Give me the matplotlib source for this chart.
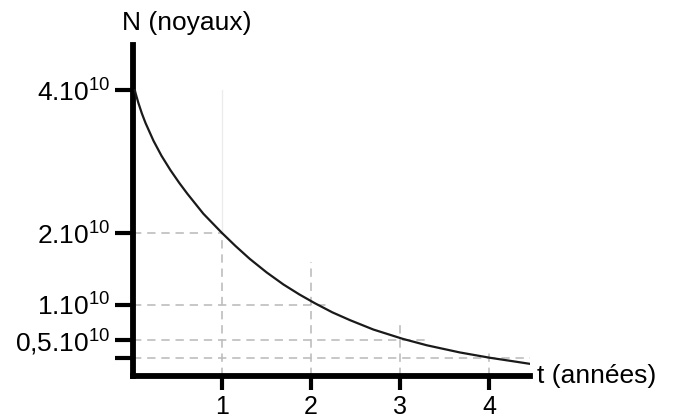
import matplotlib
matplotlib.use("Agg")
import matplotlib.pyplot as plt

plt.rcParams['font.family'] = ['Liberation Sans', 'DejaVu Sans']
plt.rcParams['mathtext.fontset'] = 'custom'
plt.rcParams['mathtext.rm'] = 'Liberation Sans'
plt.rcParams['mathtext.it'] = 'Liberation Sans'

# Decay curve (t in years, N in units of 1e10)
t_vals = [0.02, 0.03, 0.06, 0.10, 0.14, 0.23, 0.32, 0.42, 0.52, 0.61, 0.79, 1.0, 1.15, 1.31,
          1.5, 1.69, 1.87, 2.04, 2.24, 2.44, 2.7, 3.03, 3.3, 3.67, 4.01, 4.25, 4.46]
n_vals = [4.0, 3.95, 3.82, 3.67, 3.54, 3.29, 3.08, 2.88, 2.70, 2.55, 2.27, 2.0, 1.82, 1.64,
          1.45, 1.28, 1.14, 1.02, 0.89, 0.78, 0.65, 0.52, 0.43, 0.33, 0.255, 0.21, 0.17]

x_ticks = [1, 2, 3, 4]
x_tick_labels = ['1', '2', '3', '4']
y_ticks = [4, 2, 1, 0.5, 0.25]
y_tick_labels = [r'$\mathregular{4.10^{10}}$', r'$\mathregular{2.10^{10}}$',
                 r'$\mathregular{1.10^{10}}$', r'$\mathregular{0{,}5.10^{10}}$', '']

# guide lines: (N level, x extent end) and (t, y start)
h_guides = [(2, 1.0), (1, 2.2), (0.5, 3.3), (0.25, 4.46)]
v_guides = [(1, 2.0), (2, 1.6), (3, 0.75), (4, 0.35)]

fig = plt.figure(figsize=(6.77, 4.19), dpi=100)
ax = fig.add_axes([0.1965, 0.1026, 0.5864, 0.79])
ax.set_xlim(0, 4.46)
ax.set_ylim(0, 4.63)

grey = '#bdbdbd'
for lvl, xe in h_guides:
    ax.plot([0, xe], [lvl, lvl], color=grey, lw=1.2, ls=(0, (5, 3.5)), zorder=1)
for tv, ys in v_guides:
    ax.plot([tv, tv], [0, ys], color=grey, lw=1.2, ls=(0, (5, 3.5)), zorder=1)
# faint upper part of the t=1 guide
ax.plot([1, 1], [2.0, 4.0], color='#ececec', lw=1.0, zorder=1)

ax.plot(t_vals, n_vals, color='#1a1a1a', lw=1.6, zorder=3, solid_capstyle='round')

for s in ['top', 'right']:
    ax.spines[s].set_visible(False)
for s in ['left', 'bottom']:
    ax.spines[s].set_linewidth(4.2)
    ax.spines[s].set_color('black')

ax.set_xticks(x_ticks)
ax.set_xticklabels(x_tick_labels, fontsize=18)
ax.set_yticks(y_ticks)
ax.set_yticklabels(y_tick_labels, fontsize=19)
ax.tick_params(axis='x', direction='out', length=10, width=3, pad=4)
ax.tick_params(axis='y', direction='out', length=13, width=3, pad=3)

fig.text(0.180, 0.945, 'N (noyaux)', fontsize=19, ha='left', va='center')
fig.text(0.793, 0.103, 't (années)', fontsize=19, ha='left', va='center')

fig.savefig('out.png', dpi=100)
